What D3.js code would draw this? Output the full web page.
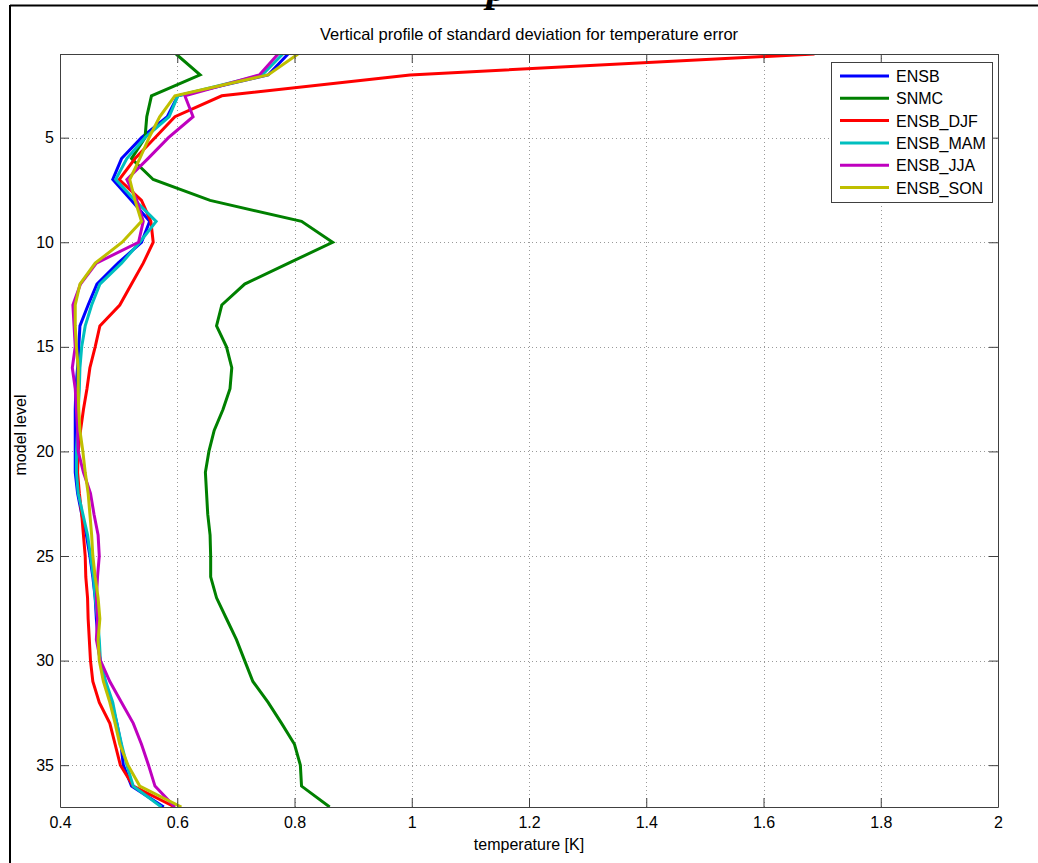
<!DOCTYPE html>
<html>
<head>
<meta charset="utf-8">
<script src="https://cdn.jsdelivr.net/npm/d3@7"></script>
<style>
  html, body { margin: 0; padding: 0; background: #fff; }
  svg { display: block; }
  text { font-family: "Liberation Sans", Arial, Helvetica, sans-serif; }
</style>
</head>
<body>
<svg id="chart" width="1038" height="863"></svg>
<script>
// Model levels 1..37 (top of the column to the surface)
const levels = d3.range(1, 38);

// Standard deviation of temperature error [K] per model level
const ensb = [0.789, 0.755, 0.601, 0.583, 0.539, 0.505, 0.490, 0.522, 0.553, 0.539,
              0.499, 0.463, 0.448, 0.434, 0.432, 0.430, 0.427, 0.426, 0.426, 0.426,
              0.426, 0.430, 0.437, 0.445, 0.451, 0.456, 0.460, 0.462, 0.465, 0.468,
              0.477, 0.488, 0.497, 0.504, 0.508, 0.522, 0.577];
const snmc = [0.598, 0.639, 0.556, 0.548, 0.545, 0.522, 0.559, 0.656, 0.812, 0.865,
              0.790, 0.715, 0.676, 0.667, 0.684, 0.693, 0.690, 0.678, 0.663, 0.654,
              0.648, 0.650, 0.652, 0.656, 0.657, 0.657, 0.667, 0.684, 0.701, 0.715,
              0.729, 0.755, 0.778, 0.800, 0.810, 0.812, 0.860];
const ensbDJF = [1.687, 0.997, 0.676, 0.596, 0.562, 0.528, 0.501, 0.539, 0.555, 0.559,
                 0.542, 0.522, 0.502, 0.468, 0.460, 0.451, 0.446, 0.440, 0.435, 0.431,
                 0.430, 0.433, 0.437, 0.440, 0.443, 0.444, 0.447, 0.448, 0.450, 0.452,
                 0.456, 0.467, 0.485, 0.494, 0.503, 0.525, 0.596];
const ensbMAM = [0.780, 0.745, 0.601, 0.586, 0.545, 0.514, 0.495, 0.528, 0.564, 0.536,
                 0.505, 0.468, 0.454, 0.443, 0.437, 0.434, 0.433, 0.431, 0.430, 0.428,
                 0.428, 0.431, 0.439, 0.447, 0.452, 0.457, 0.460, 0.464, 0.467, 0.469,
                 0.478, 0.490, 0.497, 0.505, 0.514, 0.525, 0.573];
const ensbJJA = [0.772, 0.740, 0.613, 0.627, 0.585, 0.550, 0.514, 0.531, 0.542, 0.534,
                 0.462, 0.435, 0.422, 0.424, 0.426, 0.421, 0.426, 0.428, 0.430, 0.431,
                 0.440, 0.452, 0.458, 0.465, 0.467, 0.464, 0.462, 0.464, 0.462, 0.469,
                 0.485, 0.505, 0.525, 0.539, 0.551, 0.562, 0.596];
const ensbSON = [0.806, 0.755, 0.596, 0.570, 0.552, 0.536, 0.519, 0.528, 0.539, 0.506,
                 0.460, 0.434, 0.426, 0.426, 0.428, 0.431, 0.431, 0.432, 0.434, 0.439,
                 0.443, 0.448, 0.451, 0.454, 0.456, 0.460, 0.465, 0.468, 0.465, 0.467,
                 0.474, 0.485, 0.494, 0.502, 0.516, 0.536, 0.607];

const seriesNames = ["ENSB", "SNMC", "ENSB_DJF", "ENSB_MAM", "ENSB_JJA", "ENSB_SON"];
const seriesValues = [ensb, snmc, ensbDJF, ensbMAM, ensbJJA, ensbSON];
const seriesColors = ["#0000ff", "#008000", "#ff0000", "#00bfbf", "#bf00bf", "#bfbf00"];

const xTicks = [0.4, 0.6, 0.8, 1, 1.2, 1.4, 1.6, 1.8, 2];
const yTicks = [5, 10, 15, 20, 25, 30, 35];

const titleText = "Vertical profile of standard deviation for temperature error";
const xLabel = "temperature [K]";
const yLabel = "model level";

const svg = d3.select("#chart");
const W = 1038, H = 863;
const plot = { left: 60, top: 54, right: 998, bottom: 807 };
const fontPx = "16px";

// Figure frame
svg.append("line").attr("x1", 10).attr("x2", W).attr("y1", 5.5).attr("y2", 5.5)
  .attr("stroke", "#000").attr("stroke-width", 2);
svg.append("line").attr("x1", 10).attr("x2", 10).attr("y1", 5).attr("y2", H)
  .attr("stroke", "#000").attr("stroke-width", 2);
svg.append("text").attr("x", 497).attr("y", 1)
  .attr("text-anchor", "middle")
  .style("font-family", "'Liberation Serif', 'Times New Roman', serif")
  .style("font-weight", "bold").style("font-style", "italic")
  .style("font-size", "42px").text("p");

const x = d3.scaleLinear().domain([0.4, 2]).range([plot.left, plot.right]);
const y = d3.scaleLinear().domain([1, 37]).range([plot.top, plot.bottom]);

// Dotted grid
const grid = svg.append("g").attr("stroke", "#999").attr("stroke-width", 1)
  .attr("stroke-dasharray", "1,3");
grid.selectAll("line.gx").data(xTicks.slice(1, -1)).join("line")
  .attr("x1", d => Math.round(x(d)) + 0.5).attr("x2", d => Math.round(x(d)) + 0.5)
  .attr("y1", plot.top).attr("y2", plot.bottom);
grid.selectAll("line.gy").data(yTicks).join("line")
  .attr("y1", d => Math.round(y(d)) + 0.5).attr("y2", d => Math.round(y(d)) + 0.5)
  .attr("x1", plot.left).attr("x2", plot.right);

// Series lines
const clipId = "plotclip";
svg.append("clipPath").attr("id", clipId).append("rect")
  .attr("x", plot.left).attr("y", plot.top)
  .attr("width", plot.right - plot.left).attr("height", plot.bottom - plot.top);

const line = d3.line().x(d => x(d[1])).y(d => y(d[0]));
svg.append("g").attr("clip-path", `url(#${clipId})`)
  .selectAll("path").data(seriesValues).join("path")
  .attr("d", vals => line(levels.map((l, i) => [l, vals[i]])))
  .attr("fill", "none")
  .attr("stroke", (d, i) => seriesColors[i])
  .attr("stroke-width", 3)
  .attr("stroke-linejoin", "miter");

// Axes (box with inward ticks on all sides)
const tickLen = 9;
const axisColor = "#404040";
const fmt = d => String(+d.toFixed(1));

const axB = d3.axisBottom(x).tickValues(xTicks).tickSizeInner(-tickLen).tickSizeOuter(0)
  .tickPadding(10).tickFormat(fmt);
const axT = d3.axisTop(x).tickValues(xTicks).tickSizeInner(-tickLen).tickSizeOuter(0)
  .tickFormat("");
const axL = d3.axisLeft(y).tickValues(yTicks).tickSizeInner(-tickLen).tickSizeOuter(0)
  .tickPadding(6).tickFormat(d3.format("d"));
const axR = d3.axisRight(y).tickValues(yTicks).tickSizeInner(-tickLen).tickSizeOuter(0)
  .tickFormat("");

function styleAxis(g) {
  g.select(".domain").attr("stroke", axisColor);
  g.selectAll(".tick line").attr("stroke", axisColor);
  g.selectAll(".tick text").attr("fill", "#000").style("font-size", fontPx)
    .style("font-family", "'Liberation Sans', Arial, sans-serif");
}
svg.append("g").attr("transform", `translate(0,${plot.bottom})`).call(axB).call(styleAxis);
svg.append("g").attr("transform", `translate(0,${plot.top})`).call(axT).call(styleAxis);
svg.append("g").attr("transform", `translate(${plot.left},0)`).call(axL).call(styleAxis);
svg.append("g").attr("transform", `translate(${plot.right},0)`).call(axR).call(styleAxis);

// Titles
svg.append("text").attr("x", 529).attr("y", 40).attr("text-anchor", "middle")
  .style("font-size", "16.5px").text(titleText);
svg.append("text").attr("x", 529).attr("y", 850).attr("text-anchor", "middle")
  .style("font-size", fontPx).text(xLabel);
svg.append("text").attr("transform", "translate(26,435) rotate(-90)")
  .attr("text-anchor", "middle").style("font-size", fontPx).text(yLabel);

// Legend
const lg = svg.append("g");
lg.append("rect").attr("x", 831.5).attr("y", 62.5).attr("width", 161).attr("height", 140)
  .attr("fill", "#fff").attr("stroke", axisColor).attr("stroke-width", 1);
const rows = lg.selectAll("g.row").data(seriesNames).join("g")
  .attr("transform", (d, i) => `translate(0,${76 + i * 22.3})`);
rows.append("line").attr("x1", 840).attr("x2", 889).attr("y1", 0).attr("y2", 0)
  .attr("stroke", (d, i) => seriesColors[i]).attr("stroke-width", 3);
rows.append("text").attr("x", 896).attr("y", 6).style("font-size", fontPx).text(d => d);
</script>
</body>
</html>
